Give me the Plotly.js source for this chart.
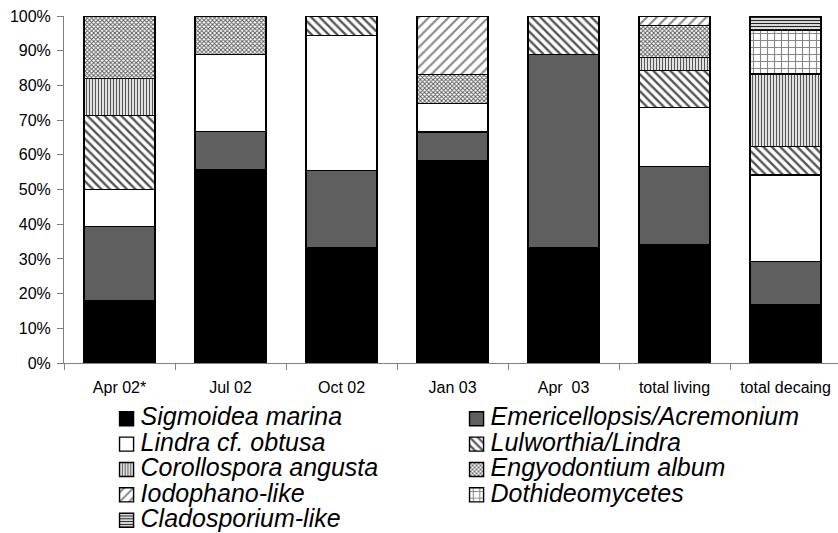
<!DOCTYPE html>
<html>
<head>
<meta charset="utf-8">
<script src="https://cdn.plot.ly/plotly-3.0.1.min.js"></script>
<style>
  html, body { margin: 0; padding: 0; background: #fff; }
  #chart { width: 838px; height: 533px; }
  .legendtext { font-size: 25px !important; }
  g.legendpoints { transform: translate(2.6px, 0px) scale(1.17); }
</style>
</head>
<body>
<div id="chart"></div>
<script>
// Categories (sampling dates / totals)
const categories = ["Apr 02*", "Jul 02", "Oct 02", "Jan 03", "Apr \u00a003", "total living", "total decaing"];

// Percentage of isolates per taxon in each category
const sigmoidea      = [17.9, 55.6, 33.3, 58.3, 33.3, 34.2, 16.7];
const emericellopsis = [21.4, 11.1, 22.2,  8.3, 55.6, 22.4, 12.5];
const lindra         = [10.7, 22.2, 38.9,  8.3,  0,   17.1, 25.0];
const lulworthia     = [21.4,  0,    5.6,  0,   11.1, 10.5,  8.3];
const corollospora   = [10.7,  0,    0,    0,    0,    3.9, 20.8];
const engyodontium   = [17.9, 11.1,  0,    8.3,  0,    9.2,  0];
const iodophano      = [ 0,    0,    0,   16.7,  0,    2.6,  0];
const dothideo       = [ 0,    0,    0,    0,    0,    0,   12.5];
const cladosporium   = [ 0,    0,    0,    0,    0,    0,    4.2];

const taxonNames = ["Sigmoidea marina", "Emericellopsis/Acremonium", "Lindra cf. obtusa",
  "Lulworthia/Lindra", "Corollospora angusta", "Engyodontium album", "Iodophano-like",
  "Dothideomycetes", "Cladosporium-like"];
const taxonValues = [sigmoidea, emericellopsis, lindra, lulworthia, corollospora,
  engyodontium, iodophano, dothideo, cladosporium];

const styles = [
  {color: "#000000"},
  {color: "#5f5f5f"},
  {color: "#ffffff"},
  {color: "#ffffff", pattern: {shape: "\\", fgcolor: "#555555", bgcolor: "#ffffff", size: 6, solidity: 0.4, fillmode: "replace"}},
  {color: "#ffffff", pattern: {shape: "|", fgcolor: "#555555", bgcolor: "#ffffff", size: 3, solidity: 0.45, fillmode: "replace"}},
  {color: "#ffffff", pattern: {shape: "x", fgcolor: "#555555", bgcolor: "#ffffff", size: 3, solidity: 0.5, fillmode: "replace"}},
  {color: "#ffffff", pattern: {shape: "/", fgcolor: "#888888", bgcolor: "#ffffff", size: 7, solidity: 0.3, fillmode: "replace"}},
  {color: "#ffffff", pattern: {shape: "+", fgcolor: "#888888", bgcolor: "#ffffff", size: 7, solidity: 0.3, fillmode: "replace"}},
  {color: "#ffffff", pattern: {shape: "-", fgcolor: "#222222", bgcolor: "#ffffff", size: 3, solidity: 0.45, fillmode: "replace"}}
];

const traces = taxonNames.map((name, i) => {
  const m = {color: styles[i].color, line: {color: "#000000", width: 1.2}};
  if (styles[i].pattern) m.pattern = styles[i].pattern;
  return {
    type: "bar",
    name: name,
    x: categories,
    y: taxonValues[i],
    marker: m,
    hoverinfo: "skip"
  };
});

const layout = {
  width: 838,
  height: 533,
  barmode: "stack",
  bargap: 0.36,
  paper_bgcolor: "#ffffff",
  plot_bgcolor: "#ffffff",
  margin: {l: 64, r: 0, t: 16, b: 170, autoexpand: false},
  font: {family: "Liberation Sans, Arial, sans-serif", size: 16, color: "#000000"},
  xaxis: {
    type: "category",
    range: [-0.5, 6.473],
    showline: true, linecolor: "#808080", linewidth: 1,
    ticks: "outside", tickson: "boundaries", ticklen: 6, tickcolor: "#808080",
    ticklabelstandoff: 10,
    showgrid: false, zeroline: false,
    tickfont: {family: "Liberation Sans, Arial, sans-serif", size: 16, color: "#000000"}
  },
  yaxis: {
    range: [0, 100],
    dtick: 10,
    ticksuffix: "%",
    showline: true, linecolor: "#808080", linewidth: 1,
    ticks: "outside", ticklen: 6, tickcolor: "#808080",
    ticklabelstandoff: 3,
    showgrid: false, zeroline: false,
    tickfont: {family: "Liberation Sans, Arial, sans-serif", size: 16, color: "#000000"}
  },
  showlegend: true,
  legend: {
    orientation: "h",
    xref: "container", yref: "container",
    x: 0.12, y: 0.2475,
    xanchor: "left", yanchor: "top",
    entrywidth: 305,
    entrywidthmode: "pixels",
    traceorder: "normal",
    font: {family: "Liberation Sans, Arial, sans-serif", size: 17.2, color: "#000000", style: "italic"},
    bgcolor: "rgba(0,0,0,0)"
  }
};

Plotly.newPlot("chart", traces, layout, {staticPlot: true, displayModeBar: false});
</script>
</body>
</html>
